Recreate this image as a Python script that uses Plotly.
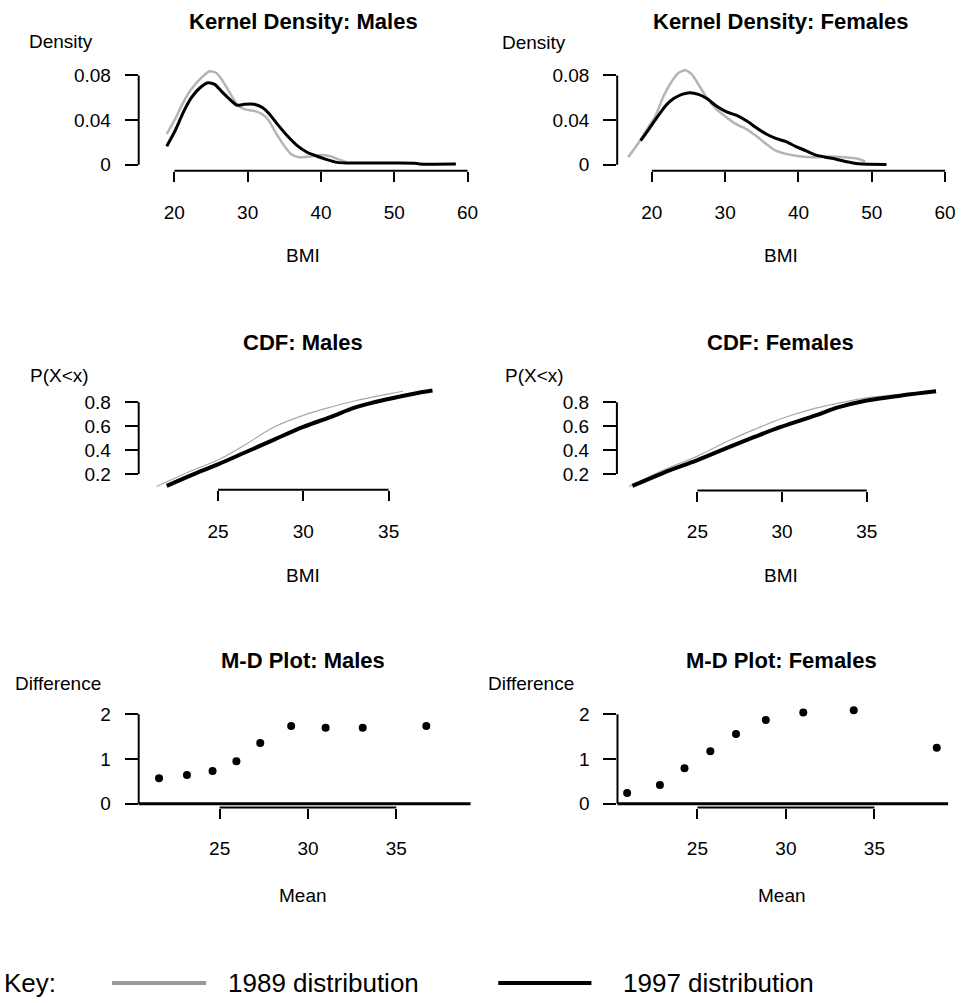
import plotly.graph_objects as go

W, H = 965, 1003

# ---------------- data ----------------
# Kernel density, males
kdm_x_1989 = [18.96, 20.1, 21.2, 22.3, 23.7, 24.8, 25.7, 26.6, 27.7, 28.56, 29.55, 30.9, 32.0, 32.9,
              33.8, 34.96, 35.9, 37.0, 38.55, 39.9, 41.26, 42.6, 43.5]
kdm_y_1989 = [0.0276, 0.041, 0.0557, 0.0676, 0.078, 0.0838, 0.0824, 0.075, 0.063, 0.054, 0.0498, 0.0483,
              0.0453, 0.0394, 0.029, 0.0172, 0.0098, 0.0068, 0.0074, 0.0089, 0.0077, 0.0044, 0.0024]
kdm_x_1997 = [18.96, 20.1, 21.2, 22.3, 23.5, 24.6, 25.5, 26.4, 27.5, 28.56, 29.55, 30.9, 32.0, 32.9,
              34.05, 35.4, 36.76, 38.1, 39.46, 40.8, 42.2, 43.5, 48.0, 52.8, 53.4, 58.4]
kdm_y_1997 = [0.0166, 0.0305, 0.0468, 0.060, 0.069, 0.0735, 0.072, 0.066, 0.059, 0.0533, 0.0542, 0.0542,
              0.0513, 0.046, 0.0364, 0.026, 0.0172, 0.0113, 0.0077, 0.0047, 0.0022, 0.0017, 0.0016, 0.0015,
              0.0008, 0.0007]
# Kernel density, females
kdf_x_1989 = [16.76, 18.24, 19.36, 20.5, 21.6, 22.75, 23.65, 24.55, 25.45, 26.35, 27.5, 28.8, 30.2, 31.5,
              32.9, 34.2, 35.6, 36.9, 38.3, 40.1, 41.9, 44.15, 46.4, 48.2, 49.1]
kdf_y_1989 = [0.0068, 0.0202, 0.032, 0.0439, 0.0616, 0.075, 0.0824, 0.0847, 0.0809, 0.072, 0.060, 0.0498,
              0.0424, 0.0364, 0.032, 0.026, 0.0187, 0.0127, 0.0098, 0.0077, 0.0068, 0.0074, 0.0068, 0.0053,
              0.003]
kdf_x_1997 = [18.47, 19.6, 20.7, 21.85, 22.97, 24.1, 25.2, 26.35, 27.5, 28.8, 30.2, 31.5, 32.9, 34.2, 35.6,
              36.9, 38.3, 39.6, 40.99, 42.3, 43.7, 45.04, 46.4, 48.2, 52.0]
kdf_y_1997 = [0.0216, 0.032, 0.0424, 0.0527, 0.0593, 0.0631, 0.0646, 0.0631, 0.0593, 0.0527, 0.0474, 0.0444,
              0.0394, 0.0335, 0.0276, 0.0237, 0.0207, 0.0166, 0.0127, 0.0089, 0.0068, 0.0053, 0.003, 0.0009,
              0.0003]
# CDF, males
cdfm_x_1989 = [21.4, 23.45, 25.0, 26.55, 28.29, 30.0, 31.58, 33.1, 35.0, 35.84]
cdfm_y_1989 = [0.095, 0.227, 0.316, 0.44, 0.593, 0.69, 0.758, 0.814, 0.869, 0.891]
cdfm_x_1997 = [22.0, 23.45, 25.0, 26.55, 28.29, 30.0, 31.58, 33.1, 35.0, 36.4, 37.57]
cdfm_y_1997 = [0.10, 0.19, 0.28, 0.377, 0.487, 0.593, 0.675, 0.758, 0.827, 0.869, 0.897]
# CDF, females
cdff_x_1989 = [20.96, 23.0, 25.0, 26.9, 28.47, 29.93, 31.98, 33.35, 35.0, 37.05, 38.0]
cdff_y_1989 = [0.095, 0.233, 0.349, 0.482, 0.578, 0.661, 0.75, 0.792, 0.836, 0.864, 0.875]
cdff_x_1997 = [21.16, 23.0, 25.0, 26.9, 28.47, 29.93, 31.98, 33.35, 35.0, 37.05, 39.09]
cdff_y_1997 = [0.10, 0.21, 0.316, 0.427, 0.515, 0.593, 0.69, 0.758, 0.814, 0.856, 0.891]
# M-D plots
md_m_mean = [21.57, 23.15, 24.6, 25.95, 27.3, 29.05, 31.0, 33.1, 36.7]
md_m_diff = [0.57, 0.64, 0.73, 0.95, 1.36, 1.74, 1.70, 1.70, 1.74]
md_f_mean = [21.03, 22.88, 24.27, 25.73, 27.18, 28.86, 30.98, 33.83, 38.52]
md_f_diff = [0.24, 0.42, 0.79, 1.17, 1.56, 1.87, 2.04, 2.09, 1.25]

# tick values / labels
kd_xticks = [20, 30, 40, 50, 60]
kd_yticks = [0, 0.04, 0.08]
kd_ytext = ["0", "0.04", "0.08"]
cdf_xticks = [25, 30, 35]
cdf_yticks = [0.2, 0.4, 0.6, 0.8]
md_xticks = [25, 30, 35]
md_yticks = [0, 1, 2]

titles = ["Kernel Density: Males", "Kernel Density: Females", "CDF: Males", "CDF: Females",
          "M-D Plot: Males", "M-D Plot: Females"]
ylabels = ["Density", "Density", "P(X<x)", "P(X<x)", "Difference", "Difference"]
xlabels = ["BMI", "BMI", "BMI", "BMI", "Mean", "Mean"]
key_labels = ["1989 distribution", "1997 distribution"]

GRAY = "#b4b4b4"
FONT = "Liberation Sans, Arial, sans-serif"


def px(x):
    return x / W


def py(y):
    return 1 - y / H


# panel geometry (pixels) and axis ranges
panels = [
    dict(l=140, r=474, t=60, b=172, xr=[15.135, 60.27], yr=[-0.00533, 0.0942],
         xt=kd_xticks, yt=kd_yticks, ytt=kd_ytext, tcx=306, ty=22, ylx=62, yly=42, xly=257),
    dict(l=623, r=956, t=60, b=172, xr=[15.27, 60.27], yr=[-0.00533, 0.0942],
         xt=kd_xticks, yt=kd_yticks, ytt=kd_ytext, tcx=788, ty=22, ylx=539, yly=43, xly=257),
    dict(l=140, r=445, t=385, b=493.3, xr=[20.357, 38.06], yr=[0.0672, 0.966],
         xt=cdf_xticks, yt=cdf_yticks, ytt=None, tcx=306, ty=345, ylx=60, yly=378, xly=580),
    dict(l=622.7, r=950, t=385, b=494, xr=[20.246, 39.39], yr=[0.0614, 0.966],
         xt=cdf_xticks, yt=cdf_yticks, ytt=None, tcx=788, ty=345, ylx=540, yly=378, xly=580),
    dict(l=140, r=475, t=705, b=813.3, xr=[20.418, 39.207], yr=[-0.0889, 2.318],
         xt=md_xticks, yt=md_yticks, ytt=None, tcx=306, ty=665, ylx=59, yly=688, xly=902),
    dict(l=623.3, r=957, t=705, b=813.3, xr=[20.484, 39.16], yr=[-0.0889, 2.318],
         xt=md_xticks, yt=md_yticks, ytt=None, tcx=789, ty=665, ylx=536, yly=688, xly=902),
]

fig = go.Figure()
layout = dict(width=W, height=H, margin=dict(l=0, r=0, t=0, b=0), paper_bgcolor="white",
              plot_bgcolor="white", showlegend=False, font=dict(family=FONT, color="black", size=19))
shapes = []
annotations = []

for i, p in enumerate(panels):
    n = i + 1
    xa = "xaxis" if n == 1 else f"xaxis{n}"
    ya = "yaxis" if n == 1 else f"yaxis{n}"
    xref = "x" if n == 1 else f"x{n}"
    yref = "y" if n == 1 else f"y{n}"
    layout[xa] = dict(domain=[px(p["l"]), px(p["r"])], range=p["xr"], anchor=yref,
                      showgrid=False, zeroline=False, showline=False, ticks="outside",
                      ticklen=10, tickwidth=2, tickcolor="black", tickvals=p["xt"],
                      tickfont=dict(size=19, family=FONT), ticklabelstandoff=14, fixedrange=True)
    yd = dict(domain=[py(p["b"]), py(p["t"])], range=p["yr"], anchor=xref,
              showgrid=False, zeroline=False, showline=False, ticks="outside",
              ticklen=13, tickwidth=2, tickcolor="black", tickvals=p["yt"],
              tickfont=dict(size=19, family=FONT), ticklabelstandoff=10, fixedrange=True)
    if p["ytt"] is not None:
        yd["ticktext"] = p["ytt"]
    layout[ya] = yd
    # R-style axis lines spanning first..last tick
    shapes.append(dict(type="line", xref=xref, yref=f"{yref} domain", x0=p["xt"][0], x1=p["xt"][-1],
                       y0=0, y1=0, line=dict(color="black", width=2)))
    shapes.append(dict(type="line", xref=f"{xref} domain", yref=yref, x0=0, x1=0,
                       y0=p["yt"][0], y1=p["yt"][-1], line=dict(color="black", width=2)))
    annotations.append(dict(text=f"<b>{titles[i]}</b>", x=px(p["tcx"]), y=py(p["ty"]), xref="paper",
                            yref="paper", xanchor="center", yanchor="middle", showarrow=False,
                            font=dict(size=22, family=FONT)))
    annotations.append(dict(text=ylabels[i], x=px(p["ylx"]), y=py(p["yly"]), xref="paper", yref="paper",
                            xanchor="center", yanchor="middle", showarrow=False, font=dict(size=19)))
    annotations.append(dict(text=xlabels[i], x=px(p["tcx"]), y=py(p["xly"]), xref="paper", yref="paper",
                            xanchor="center", yanchor="middle", showarrow=False, font=dict(size=19)))

# M-D zero reference lines
for xref, yref in [("x5", "y5"), ("x6", "y6")]:
    shapes.append(dict(type="line", xref=f"{xref} domain", yref=yref, x0=0, x1=1, y0=0, y1=0,
                       line=dict(color="black", width=3)))


def line(x, y, n, color, width, smooth):
    xr = "x" if n == 1 else f"x{n}"
    yr = "y" if n == 1 else f"y{n}"
    fig.add_trace(go.Scatter(x=x, y=y, mode="lines", xaxis=xr, yaxis=yr,
                             line=dict(color=color, width=width, shape="spline", smoothing=smooth),
                             hoverinfo="skip"))


line(kdm_x_1989, kdm_y_1989, 1, GRAY, 2.5, 0.6)
line(kdm_x_1997, kdm_y_1997, 1, "black", 3, 0.6)
line(kdf_x_1989, kdf_y_1989, 2, GRAY, 2.5, 0.6)
line(kdf_x_1997, kdf_y_1997, 2, "black", 3, 0.6)
line(cdfm_x_1989, cdfm_y_1989, 3, "#a8a8a8", 1.2, 1.0)
line(cdfm_x_1997, cdfm_y_1997, 3, "black", 4, 1.0)
line(cdff_x_1989, cdff_y_1989, 4, "#a8a8a8", 1.2, 1.0)
line(cdff_x_1997, cdff_y_1997, 4, "black", 4, 1.0)
fig.add_trace(go.Scatter(x=md_m_mean, y=md_m_diff, mode="markers", xaxis="x5", yaxis="y5",
                         marker=dict(color="black", size=8), hoverinfo="skip"))
fig.add_trace(go.Scatter(x=md_f_mean, y=md_f_diff, mode="markers", xaxis="x6", yaxis="y6",
                         marker=dict(color="black", size=8), hoverinfo="skip"))

# Key
KY = 990
annotations.append(dict(text="Key:", x=px(2), y=py(KY), xref="paper", yref="paper", xanchor="left",
                        yanchor="middle", showarrow=False, font=dict(size=26)))
shapes.append(dict(type="line", xref="paper", yref="paper", x0=px(113), x1=px(208), y0=py(KY), y1=py(KY),
                   line=dict(color="#999999", width=4)))
annotations.append(dict(text=key_labels[0], x=px(228), y=py(KY), xref="paper", yref="paper",
                        xanchor="left", yanchor="middle", showarrow=False, font=dict(size=26)))
shapes.append(dict(type="line", xref="paper", yref="paper", x0=px(503), x1=px(597), y0=py(KY), y1=py(KY),
                   line=dict(color="black", width=4)))
annotations.append(dict(text=key_labels[1], x=px(627), y=py(KY), xref="paper", yref="paper",
                        xanchor="left", yanchor="middle", showarrow=False, font=dict(size=26)))

layout["shapes"] = shapes
layout["annotations"] = annotations
fig.update_layout(**layout)
fig.write_html("out.html")
